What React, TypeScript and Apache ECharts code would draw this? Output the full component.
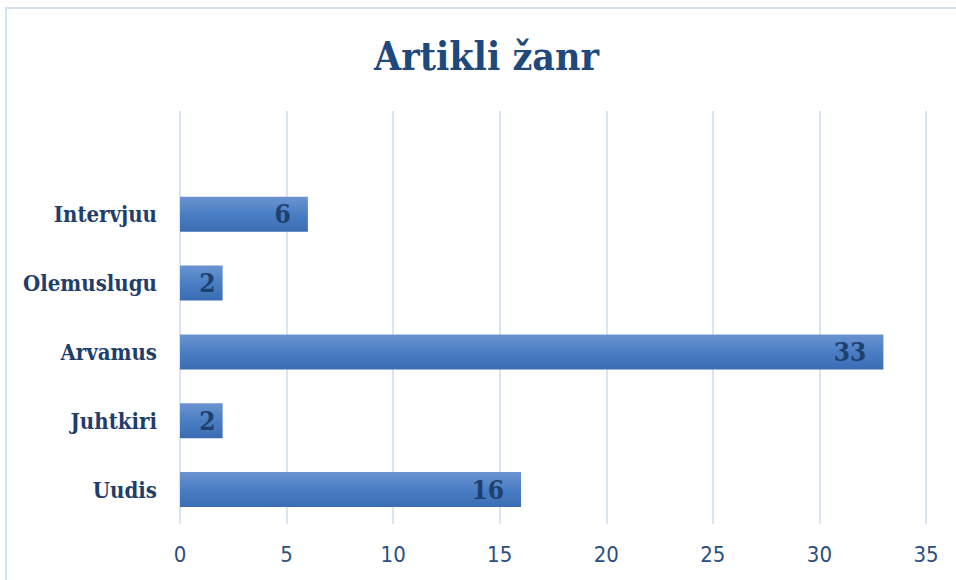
import React, { useEffect, useRef } from "react";
import * as echarts from "echarts";

const titleText = "Artikli žanr";
const categories = ["Uudis", "Juhtkiri", "Arvamus", "Olemuslugu", "Intervjuu", ""];
const values: (number | null)[] = [16, 2, 33, 2, 6, null];
const xMin = 0;
const xMax = 35;
const xInterval = 5;

export default function App() {
  const ref = useRef<HTMLDivElement>(null);
  useEffect(() => {
    document.body.style.margin = "0";
    const chart = echarts.init(ref.current!, null, { renderer: "svg" });
    const serif = "'DejaVu Serif Condensed', 'Liberation Serif', serif";
    const data = values.map((v) =>
      v === null
        ? null
        : {
            value: v,
            label: { distance: v < 3 ? 7 : 17 },
          }
    );
    chart.setOption({
      animation: false,
      backgroundColor: "#ffffff",
      title: {
        text: titleText,
        left: 369,
        top: 31,
        textStyle: {
          fontFamily: serif,
          fontWeight: "bold",
          fontSize: 39,
          color: "#1f497d",
        },
      },
      graphic: [
        {
          type: "rect",
          shape: { x: 6, y: 8, width: 980, height: 600 },
          style: { fill: "none", stroke: "#d5e2f3", lineWidth: 2 },
          silent: true,
          z: 100,
        },
      ],
      grid: { left: 180, right: 30, top: 111, bottom: 56, containLabel: false },
      xAxis: {
        type: "value",
        min: xMin,
        max: xMax,
        interval: xInterval,
        axisLine: { show: false },
        axisTick: { show: false },
        splitLine: { show: true, lineStyle: { color: "#d9e5f3", width: 2 } },
        axisLabel: {
          margin: 19,
          fontFamily: "'Liberation Sans Narrow', 'DejaVu Sans Condensed', Roboto, sans-serif",
          fontSize: 22,
          color: "#2b4f80",
        },
      },
      yAxis: {
        type: "category",
        data: categories,
        axisLine: { show: false },
        axisTick: { show: false },
        splitLine: { show: false },
        axisLabel: {
          margin: 23,
          fontFamily: serif,
          fontWeight: "bold",
          fontSize: 22,
          color: "#1f3e6c",
        },
      },
      series: [
        {
          type: "bar",
          data,
          barWidth: 35,
          itemStyle: {
            color: new echarts.graphic.LinearGradient(0, 0, 0, 1, [
              { offset: 0, color: "#6b94d0" },
              { offset: 0.5, color: "#4a7ec4" },
              { offset: 1, color: "#3a6cb3" },
            ]),
          },
          label: {
            show: true,
            position: "insideRight",
            fontFamily: serif,
            fontWeight: "bold",
            fontSize: 26,
            color: "#1f3f6d",
          },
        },
      ],
    });
    return () => chart.dispose();
  }, []);
  return (
    <div
      ref={ref}
      style={{ position: "absolute", left: 0, top: 0, width: 956, height: 580 }}
    />
  );
}
